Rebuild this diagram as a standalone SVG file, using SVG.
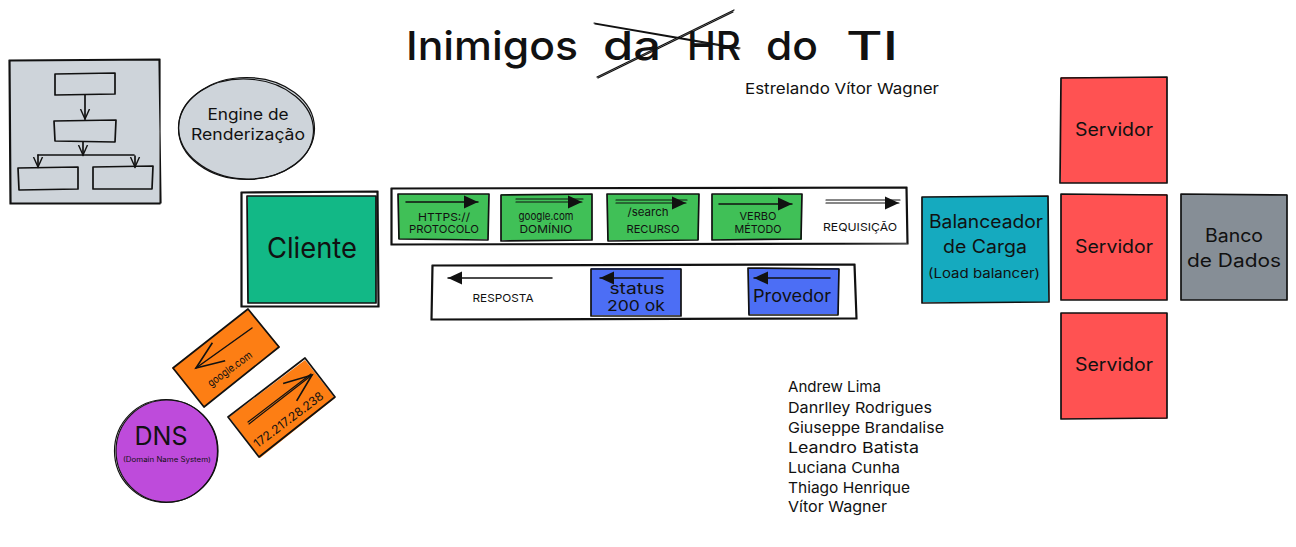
<svg xmlns="http://www.w3.org/2000/svg" width="1296" height="547" viewBox="0 0 1296 547">
<style>
text{font-family:"Inter","Liberation Sans",sans-serif;fill:#111;text-anchor:middle}
.o{fill:none;stroke:#111;stroke-width:1.2;stroke-linecap:round;stroke-linejoin:round}
.b{stroke-width:1.7}
.a{stroke-width:1.5}
.g{fill:#40c057}.bl{fill:#4c6ef5}.r{fill:#ff5252}.or{fill:#fd7e14}.gr{fill:#ced4da}
.t1{font-size:11px}.t2{font-size:16px}.t3{font-size:18px}.l{text-anchor:start;font-size:15px}
</style>
<defs>
<marker id="ah" markerWidth="16" markerHeight="14" refX="15" refY="7" orient="auto" markerUnits="userSpaceOnUse"><path d="M1 0.500L15 7L1 13.500Z" fill="#111"/></marker>
<marker id="oh" markerWidth="34" markerHeight="30" refX="30" refY="15" orient="auto" markerUnits="userSpaceOnUse"><path d="M2 4L30 15L2 26" fill="none" stroke="#111" stroke-width="1.6"/></marker>
<marker id="sh" markerWidth="12" markerHeight="12" refX="10" refY="6" orient="auto" markerUnits="userSpaceOnUse"><path d="M0 1.500L10 6L0 10.500" fill="none" stroke="#111" stroke-width="1.4"/></marker>
</defs>
<g id="title">
<text y="60" font-size="40" font-weight="500" style="text-anchor:start"><tspan x="406" textLength="172" lengthAdjust="spacingAndGlyphs">Inimigos</tspan> <tspan x="603" textLength="58" lengthAdjust="spacingAndGlyphs">da</tspan> <tspan x="687" textLength="54" lengthAdjust="spacingAndGlyphs">HR</tspan> <tspan x="766" textLength="52" lengthAdjust="spacingAndGlyphs">do</tspan> <tspan x="846" textLength="52" lengthAdjust="spacingAndGlyphs">TI</tspan></text>
<path class="o" d="M594 23L740 48M597 77L734 10M595 24L739 49M598 78L733 12"/>
<text x="842" y="94" font-size="15" textLength="194" lengthAdjust="spacingAndGlyphs">Estrelando Vítor Wagner</text>
</g>
<g id="fluxograma">
<path class="gr" d="M10 60H159V203H10Z"/>
<path class="o" d="M9 60L160 59L160 204L10 204ZM10 61L159 60L161 203L11 203Z"/>
<path class="o b" d="M55 74L115 73L115 94L55 95Z M54 121L116 120L115 142L55 141Z M18 168L78 167L78 189L19 190Z M93 167L153 166L152 189L93 189Z"/>
<path class="o b" d="M85 95V119" marker-end="url(#sh)"/>
<path class="o b" d="M83 142V155" marker-end="url(#sh)"/>
<path class="o b" d="M38 155H134"/>
<path class="o b" d="M38 155V167" marker-end="url(#sh)"/>
<path class="o b" d="M135 156V167" marker-end="url(#sh)"/>
</g>
<g id="engine">
<ellipse class="gr" cx="246.500" cy="128.500" rx="68" ry="51"/>
<ellipse class="o" cx="246.500" cy="128.500" rx="68" ry="51"/>
<ellipse class="o" cx="246" cy="129" rx="67.500" ry="50" transform="rotate(3 246 129)"/>
<text class="t2" x="248" y="120" textLength="81" lengthAdjust="spacingAndGlyphs">Engine de</text>
<text class="t2" x="248" y="140" textLength="114" lengthAdjust="spacingAndGlyphs">Renderização</text>
</g>
<g id="cliente">
<path class="o" d="M241 192L378 191L379 307L241 307ZM242 193L377 192L378 306L242 306Z"/>
<rect x="248" y="196" width="128" height="107" fill="#12b886"/>
<path class="o b" d="M247 196L376 196L376 303L248 303Z"/>
<text x="312" y="258" font-size="28" textLength="90" lengthAdjust="spacingAndGlyphs">Cliente</text>
</g>
<g id="requisicao">
<path class="o" d="M391 188L907 187L908 244L391 245ZM392 189L906 188L907 243L392 244Z"/>
</g>
<g id="protocolo">
<rect class="g" x="398" y="194" width="90" height="45"/>
<path class="o b" d="M398 194L489 194L488 240L399 239Z"/>
<text class="t1" x="444" y="221" textLength="52" lengthAdjust="spacingAndGlyphs">HTTPS://</text>
<text class="t1" x="444" y="233" textLength="70" lengthAdjust="spacingAndGlyphs">PROTOCOLO</text>
</g>
<g id="dominio">
<rect class="g" x="501" y="194" width="91" height="46"/>
<path class="o b" d="M501 195L592 194L592 240L501 241Z"/>
<text class="t1" x="546" y="220" textLength="55" lengthAdjust="spacingAndGlyphs">google.com</text>
<text class="t1" x="546" y="233" textLength="53" lengthAdjust="spacingAndGlyphs">DOMÍNIO</text>
</g>
<g id="recurso">
<rect class="g" x="607" y="194" width="92" height="46"/>
<path class="o b" d="M607 194L699 194L698 240L608 241Z"/>
<text class="t1" x="648" y="216" textLength="41" lengthAdjust="spacingAndGlyphs">/search</text>
<text class="t1" x="653" y="233" textLength="53" lengthAdjust="spacingAndGlyphs">RECURSO</text>
</g>
<g id="metodo">
<rect class="g" x="712" y="194" width="90" height="46"/>
<path class="o b" d="M712 194L802 194L801 239L712 240Z"/>
<text class="t1" x="758" y="220" textLength="37" lengthAdjust="spacingAndGlyphs">VERBO</text>
<text class="t1" x="758" y="233" textLength="47" lengthAdjust="spacingAndGlyphs">MÉTODO</text>
</g>
<g id="label-requisicao"><text class="t1" x="860" y="231" textLength="74" lengthAdjust="spacingAndGlyphs">REQUISIÇÃO</text></g>
<g id="resposta">
<path class="o" d="M432 265L855 264L857 319L431 320ZM433 266L854 265L856 318L432 319Z"/>
<text class="t1" x="503" y="302" textLength="61" lengthAdjust="spacingAndGlyphs">RESPOSTA</text>
</g>
<g id="status">
<rect class="bl" x="591" y="268" width="90" height="47"/>
<path class="o b" d="M591 269L681 269L681 316L591 316Z"/>
<text x="637" y="294" font-size="15" textLength="55" lengthAdjust="spacingAndGlyphs">status</text>
<text x="636" y="311" font-size="15" textLength="58" lengthAdjust="spacingAndGlyphs">200 ok</text>
</g>
<g id="provedor">
<rect class="bl" x="748" y="268" width="91" height="46"/>
<path class="o b" d="M748 268L839 269L838 315L749 315Z"/>
<text x="792" y="302" font-size="17" textLength="78" lengthAdjust="spacingAndGlyphs">Provedor</text>
</g>
<g id="balanceador">
<rect x="922" y="197" width="126" height="105" fill="#15aabf"/>
<path class="o b" d="M922 197L1048 196L1049 302L922 303Z"/>
<text x="986" y="228" font-size="18" textLength="114" lengthAdjust="spacingAndGlyphs">Balanceador</text>
<text x="985" y="253" font-size="18" textLength="84" lengthAdjust="spacingAndGlyphs">de Carga</text>
<text x="984" y="278" font-size="13" textLength="112" lengthAdjust="spacingAndGlyphs">(Load balancer)</text>
</g>
<g id="servidor1"><rect class="r" x="1061" y="77" width="106" height="106"/><path class="o b" d="M1061 78L1167 77L1167 183L1060 183Z"/><text class="t3" x="1114" y="136" textLength="78" lengthAdjust="spacingAndGlyphs">Servidor</text></g>
<g id="servidor2"><rect class="r" x="1061" y="194" width="106" height="106"/><path class="o b" d="M1061 194L1167 195L1167 300L1061 300Z"/><text class="t3" x="1114" y="253" textLength="78" lengthAdjust="spacingAndGlyphs">Servidor</text></g>
<g id="servidor3"><rect class="r" x="1061" y="313" width="106" height="106"/><path class="o b" d="M1061 313L1167 313L1167 418L1061 419Z"/><text class="t3" x="1114" y="371" textLength="78" lengthAdjust="spacingAndGlyphs">Servidor</text></g>
<g id="banco"><rect x="1181" y="194" width="106" height="106" fill="#868e96"/><path class="o b" d="M1181 194L1287 195L1287 300L1181 300Z"/>
<text x="1234" y="242" font-size="18" textLength="58" lengthAdjust="spacingAndGlyphs">Banco</text>
<text x="1234" y="267" font-size="18" textLength="94" lengthAdjust="spacingAndGlyphs">de Dados</text></g>
<g id="dns">
<circle cx="167" cy="451" r="51" fill="#be4bdb"/>
<circle class="o" cx="167" cy="451" r="51"/><circle class="o" cx="166" cy="451" r="51.500"/>
<text x="161" y="445" font-size="26" textLength="53" lengthAdjust="spacingAndGlyphs">DNS</text>
<text x="167" y="462" font-size="7" textLength="88" lengthAdjust="spacingAndGlyphs">(Domain Name System)</text>
</g>
<g id="google">
<path class="or" d="M172 368L248 309L280 347L204 407Z"/>
<path class="o b" d="M173 368L248 309L279 347L204 407Z"/>
<text class="t1" transform="translate(232 372) rotate(-36)" textLength="52" lengthAdjust="spacingAndGlyphs">google.com</text>
</g>
<g id="ip">
<path class="or" d="M229 417L305 360L335 398L260 458Z"/>
<path class="o b" d="M228 417L305 358L335 397L259 457Z"/>
<text font-size="12" transform="translate(291 423) rotate(-37)" textLength="84" lengthAdjust="spacingAndGlyphs">172.217.28.238</text>
</g>
<g id="conectores">
<path class="o a" d="M406 202H478" marker-end="url(#ah)"/>
<path class="o" d="M516 199H583M516 202H582" marker-end="url(#ah)"/>
<path class="o" d="M616 200H687M616 203H686" marker-end="url(#ah)"/>
<path class="o a" d="M719 204H792" marker-end="url(#ah)"/>
<path class="o" d="M826 200H900M826 203H899" marker-end="url(#ah)"/>
<path class="o a" d="M552 278H448" marker-end="url(#ah)"/>
<path class="o a" d="M663 278H600" marker-end="url(#ah)"/>
<path class="o a" d="M830 278H754" marker-end="url(#ah)"/>
<path class="o a" d="M252 328L196 368" marker-end="url(#oh)"/>
<path class="o" d="M248 422L311 374M249 424L312 375" marker-end="url(#oh)"/>
</g>
<g id="equipe">
<text class="l" x="788" y="392" textLength="93" lengthAdjust="spacingAndGlyphs">Andrew Lima</text>
<text class="l" x="788" y="413" textLength="144" lengthAdjust="spacingAndGlyphs">Danrlley Rodrigues</text>
<text class="l" x="788" y="433" textLength="156" lengthAdjust="spacingAndGlyphs">Giuseppe Brandalise</text>
<text class="l" x="788" y="453" textLength="131" lengthAdjust="spacingAndGlyphs">Leandro Batista</text>
<text class="l" x="788" y="473" textLength="112" lengthAdjust="spacingAndGlyphs">Luciana Cunha</text>
<text class="l" x="788" y="493" textLength="122" lengthAdjust="spacingAndGlyphs">Thiago Henrique</text>
<text class="l" x="788" y="512" textLength="99" lengthAdjust="spacingAndGlyphs">Vítor Wagner</text>
</g>
</svg>
